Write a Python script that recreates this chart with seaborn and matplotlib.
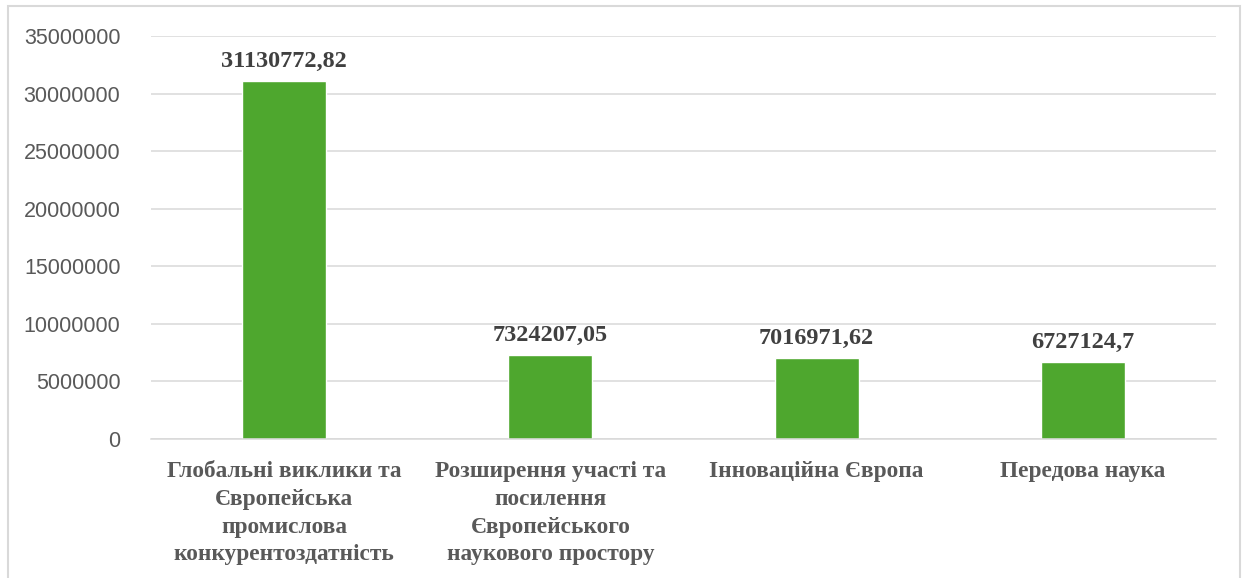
import numpy as np
import pandas as pd
import matplotlib
matplotlib.use('Agg')
import matplotlib.pyplot as plt
import seaborn as sns
from matplotlib.patches import Rectangle
from matplotlib.ticker import FuncFormatter, MultipleLocator

# data
categories = [
    'Глобальні виклики та\nЄвропейська\nпромислова\nконкурентоздатність',
    'Розширення участі та\nпосилення\nЄвропейського\nнаукового простору',
    'Інноваційна Європа',
    'Передова наука',
]
values = [31130772.82, 7324207.05, 7016971.62, 6727124.7]

df = pd.DataFrame({'category': categories, 'value': values})

sns.set_style('white')
plt.rcParams['font.family'] = ['Liberation Sans', 'DejaVu Sans']

fig = plt.figure(figsize=(12.45, 5.78), dpi=100)
ax = fig.add_axes([151 / 1245, 139 / 578, (1216 - 151) / 1245, (439 - 36) / 578])

sns.barplot(data=df, x='category', y='value', color='#4EA72E', width=0.316,
            saturation=1, ax=ax)

ax.set_ylim(0, 35000000)
ax.yaxis.set_major_locator(MultipleLocator(5000000))
ax.yaxis.set_major_formatter(FuncFormatter(lambda v, p: f'{int(v)}'))
ax.grid(axis='y', color='#D9D9D9', linewidth=1.1)
ax.set_axisbelow(True)
for s in ['top', 'right', 'left']:
    ax.spines[s].set_visible(False)
ax.spines['bottom'].set_color('#D9D9D9')
ax.spines['bottom'].set_linewidth(1.1)
ax.tick_params(axis='both', length=0)
ax.tick_params(axis='y', labelsize=15.5, labelcolor='#595959', pad=22)
ax.tick_params(axis='x', pad=16)
ax.set_xlabel('')
ax.set_ylabel('')

for lbl in ax.get_xticklabels():
    lbl.set_family(['Liberation Serif', 'DejaVu Serif'])
    lbl.set_fontweight('bold')
    lbl.set_fontsize(16.8)
    lbl.set_color('#595959')
    lbl.set_linespacing(1.42)
    lbl.set_verticalalignment('top')

for i, v in enumerate(values):
    ax.annotate(str(v).replace('.', ','), xy=(i, v), xytext=(0, 14),
                textcoords='offset points', ha='center', va='center',
                family=['Liberation Serif', 'DejaVu Serif'], fontweight='bold',
                fontsize=17.5, color='#404040')

fig.patches.append(Rectangle((8 / 1245, -0.02), 1232 / 1245, 1.02 - 6 / 578,
                             transform=fig.transFigure, fill=False,
                             edgecolor='#D9D9D9', linewidth=1.5))

fig.savefig('out.png', dpi=100, facecolor='white')
